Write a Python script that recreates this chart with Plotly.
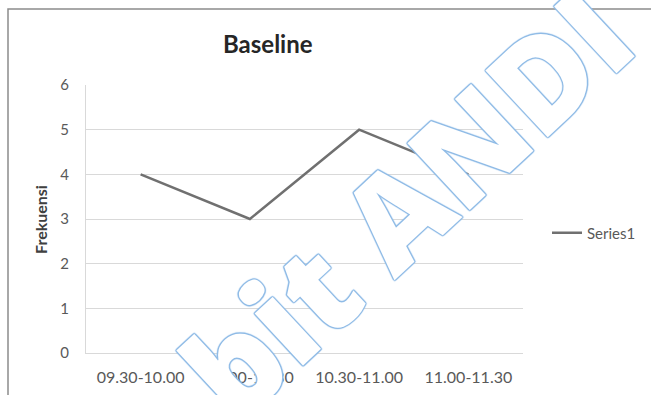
import plotly.graph_objects as go

categories = ["09.30-10.00", "10.00-10.30", "10.30-11.00", "11.00-11.30"]
series1 = [4, 3, 5, 4]
y_ticks = [0, 1, 2, 3, 4, 5, 6]
title_text = "Baseline"
y_title = "Frekuensi"
series_name = "Series1"
watermark = "bit ANDI"

W, H = 651, 395
L, R, T, B = 86, 128, 85, 42
pw, ph = W - L - R, H - T - B

def px_x(x):
    return (x - L) / pw

def px_y(y):
    return (H - B - y) / ph

FONT = "Lato"

fig = go.Figure()
fig.add_trace(go.Scatter(
    x=categories, y=series1, mode="lines", name=series_name,
    line=dict(color="#707070", width=2.5),
))

fig.update_layout(
    width=W, height=H,
    margin=dict(l=L, r=R, t=T, b=B, pad=0, autoexpand=False),
    paper_bgcolor="white", plot_bgcolor="white",
    font=dict(family=FONT, color="#595959", size=14),
    showlegend=True,
    legend=dict(x=px_x(547), y=px_y(233), xanchor="left", yanchor="middle",
                font=dict(size=15, color="#595959", family=FONT),
                bgcolor="rgba(0,0,0,0)", borderwidth=0),
    xaxis=dict(range=[-0.5, 3.5], showgrid=False, zeroline=False,
               showline=True, linecolor="#d9d9d9", linewidth=1,
               ticks="", ticklabelstandoff=10, automargin=False,
               tickfont=dict(size=16, color="#595959"),
               fixedrange=True),
    yaxis=dict(range=[0, 6], tickvals=y_ticks, showgrid=True,
               gridcolor="#d9d9d9", gridwidth=1, zeroline=False,
               showline=True, linecolor="#d9d9d9", linewidth=1,
               ticks="", ticklabelstandoff=13, automargin=False,
               tickfont=dict(size=15, color="#595959")),
)

fig.add_annotation(text="<b>" + title_text + "</b>", xref="paper", yref="paper",
                   x=px_x(268), y=px_y(44), xanchor="center", yanchor="middle",
                   showarrow=False, font=dict(size=24, color="#262626", family=FONT))
fig.add_annotation(text="<b>" + y_title + "</b>", xref="paper", yref="paper",
                   x=px_x(40), y=px_y(220), xanchor="center", yanchor="middle",
                   textangle=-90, showarrow=False,
                   font=dict(size=16, color="#404040", family=FONT))

# outer chart border
fig.add_shape(type="rect", xref="paper", yref="paper",
              x0=px_x(8), y0=px_y(420), x1=px_x(700), y1=px_y(9),
              line=dict(color="#8c8c8c", width=1.5), fillcolor="rgba(0,0,0,0)",
              layer="above")

# watermark
c = "#8fbbe6"
shadow = ", ".join(f"{dx}px {dy}px 1px {c}" for dx, dy in
                   [(1, 1), (-1, -1), (1, -1), (-1, 1), (1, 0), (-1, 0), (0, 1), (0, -1)])
fig.add_annotation(text=watermark, xref="paper", yref="paper",
                   x=px_x(405), y=px_y(202), xanchor="center", yanchor="middle",
                   textangle=-43, showarrow=False,
                   font=dict(size=128, color="white", weight=800,
                             family="Open Sans", shadow=shadow))

fig.write_html("out.html")
